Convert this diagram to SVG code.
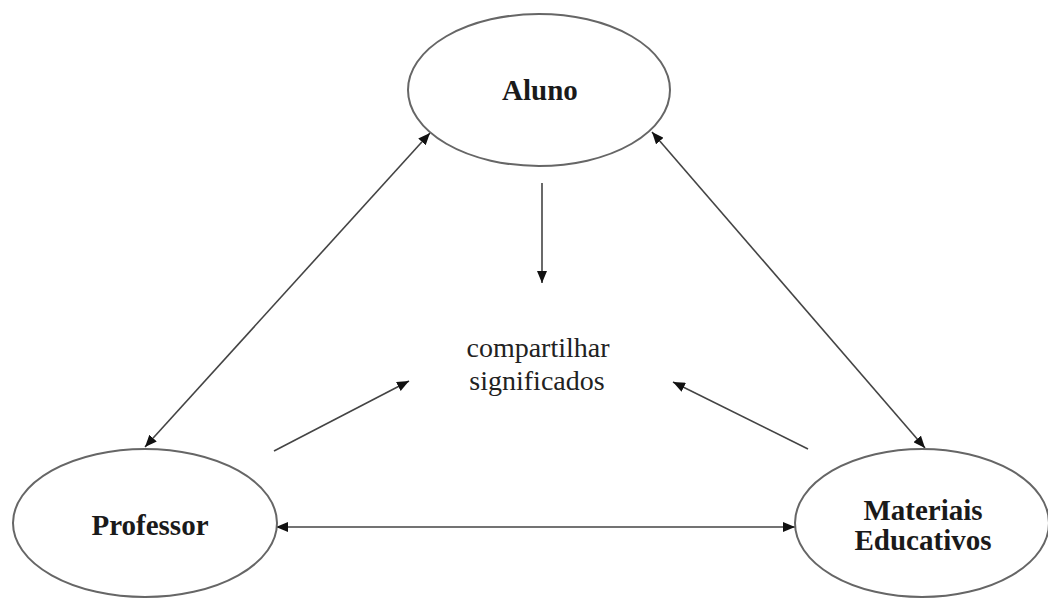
<svg xmlns="http://www.w3.org/2000/svg" width="1048" height="599" viewBox="0 0 1048 599">
  <style>
    .node ellipse { fill: #ffffff; stroke: #666666; stroke-width: 2; }
    .label { font-family: "Liberation Serif", "Times New Roman", serif; font-weight: bold; font-size: 29px; fill: #1a1a1a; text-anchor: middle; }
    .center { font-family: "Liberation Serif", "Times New Roman", serif; font-size: 28px; fill: #222222; text-anchor: middle; }
    .link { stroke: #444444; stroke-width: 1.6; fill: none; }
  </style>
  <defs>
    <marker id="head" viewBox="0 0 12 10" refX="12" refY="5" markerWidth="12" markerHeight="10" markerUnits="userSpaceOnUse" orient="auto-start-reverse">
      <path d="M0,0 L12,5 L0,10 Z" fill="#111111"/>
    </marker>
  </defs>

  <rect width="1048" height="599" fill="#ffffff"/>

  <g id="connectors">
    <!-- two-way links between the three actors -->
    <line class="link" x1="430" y1="133" x2="145" y2="447" marker-start="url(#head)" marker-end="url(#head)"/>
    <line class="link" x1="652" y1="132" x2="925" y2="448" marker-start="url(#head)" marker-end="url(#head)"/>
    <line class="link" x1="276" y1="527" x2="795" y2="527" marker-start="url(#head)" marker-end="url(#head)"/>
    <!-- one-way links into the shared meaning -->
    <line class="link" x1="542" y1="183" x2="542" y2="283" marker-end="url(#head)"/>
    <line class="link" x1="274" y1="451" x2="409" y2="381" marker-end="url(#head)"/>
    <line class="link" x1="808" y1="449" x2="673" y2="382" marker-end="url(#head)"/>
  </g>

  <g id="aluno" class="node">
    <ellipse cx="539" cy="90" rx="131" ry="76"/>
    <text class="label" x="540" y="100">Aluno</text>
  </g>

  <g id="professor" class="node">
    <ellipse cx="145" cy="523" rx="132" ry="74"/>
    <text class="label" x="150" y="535">Professor</text>
  </g>

  <g id="materiais" class="node">
    <ellipse cx="922" cy="523" rx="127" ry="74"/>
    <text class="label" x="923" y="520">Materiais</text>
    <text class="label" x="923" y="550">Educativos</text>
  </g>

  <g id="compartilhar">
    <text class="center" x="538" y="357">compartilhar</text>
    <text class="center" x="537" y="390">significados</text>
  </g>
</svg>
